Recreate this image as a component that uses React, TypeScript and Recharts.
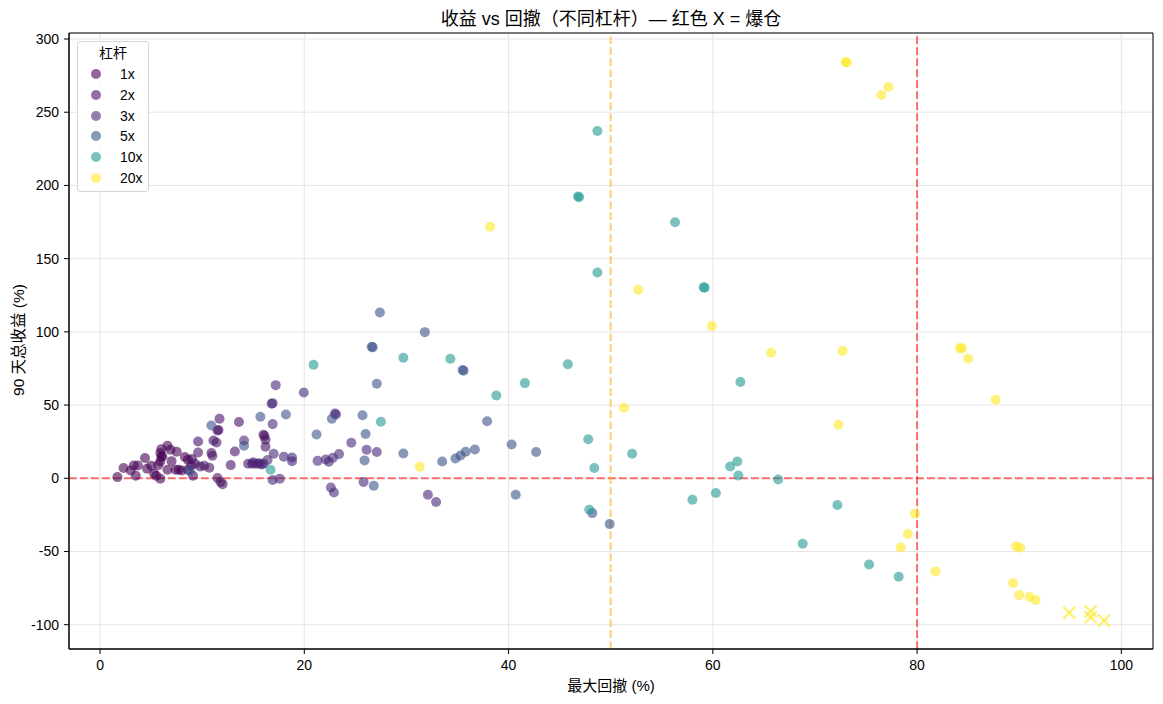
import * as React from "react";
import {
  CartesianGrid,
  ReferenceArea,
  ReferenceLine,
  Scatter,
  ScatterChart,
  XAxis,
  YAxis,
} from "recharts";

type Pt = [number, number];

// [max drawdown %, 90-day total return %]
const lev1x: Pt[] = [
  [1.7, 0.8], [2.3, 7], [3.0, 5.3], [3.3, 8.7], [3.7, 8.7], [3.5, 1.7], [4.4, 13.8], [4.6, 6.5],
  [5.0, 8.5], [5.3, 3.1], [5.5, 1.7], [5.9, -0.3], [5.7, 9], [5.9, 11.5], [6.0, 14.5], [6.1, 15.0],
  [5.9, 17.2], [6.0, 19.9], [6.6, 22.2], [6.9, 19.5], [7.5, 18.1], [7.0, 11.7], [6.6, 5.8], [7.4, 5.8],
  [7.7, 5.8], [8.0, 5.3], [8.3, 14.5], [8.6, 12.6], [9.0, 13.1], [8.9, 8.7],
];
const lev2x: Pt[] = [
  [8.6, 5.8], [9.1, 1.7], [9.3, 9.9], [9.8, 8.1], [10.2, 8.5], [10.7, 7.2], [9.6, 25.1], [9.6, 17.6],
  [10.9, 17.2], [11.0, 15.4], [11.1, 25.8], [11.4, 24.4], [11.5, 32.6], [11.6, 33.0], [11.7, 40.6],
  [11.5, 0.1], [11.8, -2.5], [12.0, -4.0], [12.8, 9.0], [13.2, 18.3], [13.6, 38.4], [14.5, 9.9],
  [14.9, 9.9], [15.3, 9.9], [15.6, 10.2], [16.0, 9.9], [16.0, 29.7], [16.1, 28.8], [16.2, 26.3], [16.2, 21.5],
];
const lev3x: Pt[] = [
  [16.8, 50.9], [16.9, 51.3], [17.2, 63.6], [19.95, 58.6], [16.9, 37.0], [23.0, 44.2], [23.1, 43.5],
  [24.6, 24.2], [26.1, 19.5], [27.1, 17.9], [25.8, -2.6], [32.1, -11.3], [32.9, -16.2], [22.6, -6.3],
  [22.9, -9.7], [17.0, 16.7], [18.0, 14.7], [18.8, 14.2], [18.8, 11.7], [21.3, 11.9], [22.1, 12.8],
  [22.4, 11.3], [22.8, 14.0], [23.4, 16.5], [16.9, -1.2], [17.6, -0.3], [14.1, 25.8], [15.0, 11.0],
  [16.4, 12.5], [15.8, 9.4],
];
const lev5x: Pt[] = [
  [27.4, 113.2], [31.8, 99.8], [26.6, 89.8], [26.7, 89.4], [35.5, 73.9], [35.6, 73.4], [27.1, 64.5],
  [15.7, 42.0], [18.2, 43.6], [22.7, 40.6], [25.7, 43.1], [37.9, 39.0], [21.2, 29.9], [26.0, 30.2],
  [29.7, 16.9], [40.3, 23.1], [42.7, 17.9], [36.7, 19.7], [35.8, 18.1], [35.3, 15.6], [34.8, 13.5],
  [33.5, 11.5], [25.9, 12.2], [26.8, -5.1], [40.7, -11.3], [48.2, -23.8], [49.9, -31.3], [10.9, 36.0],
  [14.1, 22.2], [8.8, 5.0],
];
const lev10x: Pt[] = [
  [48.7, 237.2], [46.8, 192.4], [46.9, 192.0], [56.3, 174.9], [48.7, 140.5], [59.1, 130.5], [59.2, 130.2],
  [34.3, 81.6], [45.8, 77.9], [41.6, 65.0], [38.8, 56.5], [62.7, 65.7], [47.8, 26.7], [52.1, 16.7],
  [48.4, 7.0], [62.4, 11.5], [61.7, 8.1], [62.5, 1.9], [66.4, -0.8], [58.0, -14.7], [60.3, -10.1],
  [47.9, -21.5], [20.9, 77.5], [29.7, 82.3], [27.5, 38.6], [16.7, 5.8], [68.8, -44.7], [72.2, -18.2],
  [75.3, -58.9], [78.2, -67.2],
];
const lev20x: Pt[] = [
  [73.0, 284.3], [73.1, 284.0], [76.5, 261.8], [77.2, 267.2], [38.2, 171.8], [52.7, 128.7], [59.9, 104.0],
  [65.7, 85.7], [72.7, 87.0], [84.2, 88.9], [84.4, 88.6], [85.0, 81.6], [87.7, 53.6], [51.3, 48.1],
  [72.3, 36.6], [31.3, 7.9], [79.8, -24.2], [79.1, -38.1], [78.4, -47.2], [81.8, -63.6], [89.7, -46.5],
  [90.1, -47.4], [89.4, -71.6], [90.0, -79.8], [91.0, -80.9], [91.6, -83.2],
];
// liquidated runs (drawn as X)
const liquidated20x: Pt[] = [
  [94.9, -92.0], [97.0, -90.9], [97.0, -94.8], [98.3, -97.3],
];

const SERIES = [
  { name: "1x", color: "#440154", points: lev1x },
  { name: "2x", color: "#471365", points: lev2x },
  { name: "3x", color: "#482878", points: lev3x },
  { name: "5x", color: "#3b528b", points: lev5x },
  { name: "10x", color: "#239a92", points: lev10x },
  { name: "20x", color: "#fde725", points: lev20x },
];

const X_TICKS = [0, 20, 40, 60, 80, 100];
const Y_TICKS = [-100, -50, 0, 50, 100, 150, 200, 250, 300];
const X_DOMAIN: [number, number] = [-3.04, 103.1];
const Y_DOMAIN: [number, number] = [-116.6, 304.1];

const FONT = '"Liberation Sans", "Noto Sans CJK SC", sans-serif';
const ALPHA = 0.6;

const toRows = (pts: Pt[]) => pts.map(([x, y]) => ({ x, y }));

const dotShape = (color: string) => (p: any) =>
  <circle cx={p.cx} cy={p.cy} r={5} fill={color} fillOpacity={ALPHA} />;

const crossShape = (color: string) => (p: any) => {
  const s = 6;
  return (
    <g stroke={color} strokeOpacity={ALPHA} strokeWidth={2.5}>
      <line x1={p.cx - s} y1={p.cy - s} x2={p.cx + s} y2={p.cy + s} />
      <line x1={p.cx - s} y1={p.cy + s} x2={p.cx + s} y2={p.cy - s} />
    </g>
  );
};

function LegendBox() {
  return (
    <div
      style={{
        position: "absolute",
        left: 77,
        top: 41,
        width: 70,
        height: 149,
        border: "1px solid #d6d6d6",
        borderRadius: 3,
        background: "rgba(255,255,255,0.8)",
        fontFamily: FONT,
        fontSize: 14,
        color: "#000",
      }}
    >
      <div style={{ position: "absolute", top: 1, width: "100%", textAlign: "center", lineHeight: "20px" }}>杠杆</div>
      {SERIES.map((s, i) => (
        <div key={s.name} style={{ position: "absolute", top: 22 + i * 20.8, left: 0, height: 20, width: "100%" }}>
          <svg width={20} height={20} style={{ position: "absolute", left: 8, top: 0 }}>
            <circle cx={10} cy={10} r={5} fill={s.color} fillOpacity={ALPHA} />
          </svg>
          <span style={{ position: "absolute", left: 42, top: 0, lineHeight: "20px" }}>{s.name}</span>
        </div>
      ))}
    </div>
  );
}

export default function App() {
  const axisStroke = { stroke: "#000", strokeWidth: 1 };
  const tick = { fill: "#000", fontSize: 14, fontFamily: FONT };
  return (
    <div style={{ position: "absolute", left: 0, top: 0, width: 1163, height: 704, background: "#fff" }}>
      <div
        style={{
          position: "absolute",
          left: 69,
          width: 1084,
          top: 8,
          textAlign: "center",
          fontFamily: FONT,
          fontSize: 18,
          lineHeight: "22px",
        }}
      >
        收益 vs 回撤（不同杠杆）— 红色 X = 爆仓
      </div>
      <div
        style={{
          position: "absolute",
          left: 69,
          width: 1084,
          top: 676,
          textAlign: "center",
          fontFamily: FONT,
          fontSize: 15,
          lineHeight: "20px",
        }}
      >
        最大回撤 (%)
      </div>
      <div
        style={{
          position: "absolute",
          left: 19 - 100,
          top: 340 - 10,
          width: 200,
          textAlign: "center",
          fontFamily: FONT,
          fontSize: 15.5,
          lineHeight: "20px",
          transform: "rotate(-90deg)",
        }}
      >
        90 天总收益 (%)
      </div>
      <ScatterChart width={1163} height={704} margin={{ top: 33, right: 10, bottom: 25, left: 0 }}>
        <CartesianGrid stroke="#e6e6e6" strokeWidth={1} />
        <XAxis
          type="number"
          dataKey="x"
          domain={X_DOMAIN}
          ticks={X_TICKS}
          allowDataOverflow
          height={30}
          tick={tick}
          tickSize={5}
          tickMargin={6}
          tickLine={axisStroke}
          axisLine={axisStroke}
        />
        <YAxis
          type="number"
          dataKey="y"
          domain={Y_DOMAIN}
          ticks={Y_TICKS}
          allowDataOverflow
          width={69}
          tick={tick}
          tickSize={5}
          tickMargin={5}
          tickLine={axisStroke}
          axisLine={axisStroke}
        />
        {SERIES.map((s) => (
          <Scatter
            key={s.name}
            name={s.name}
            data={toRows(s.points)}
            shape={dotShape(s.color)}
            isAnimationActive={false}
          />
        ))}
        <Scatter
          name="爆仓"
          data={toRows(liquidated20x)}
          shape={crossShape("#fde725")}
          isAnimationActive={false}
        />
        <ReferenceLine y={0} stroke="#ff0000" strokeOpacity={0.55} strokeWidth={2} strokeDasharray="7.7 3.3" />
        <ReferenceLine x={80} stroke="#ff0000" strokeOpacity={0.55} strokeWidth={2} strokeDasharray="7.7 3.3" />
        <ReferenceLine x={50} stroke="#ffa500" strokeOpacity={0.55} strokeWidth={2} strokeDasharray="7.7 3.3" />
        <ReferenceArea
          x1={X_DOMAIN[0]}
          x2={X_DOMAIN[1]}
          y1={Y_DOMAIN[0]}
          y2={Y_DOMAIN[1]}
          fill="none"
          stroke="#000"
          strokeWidth={1}
          ifOverflow="visible"
        />
      </ScatterChart>
      <LegendBox />
    </div>
  );
}
